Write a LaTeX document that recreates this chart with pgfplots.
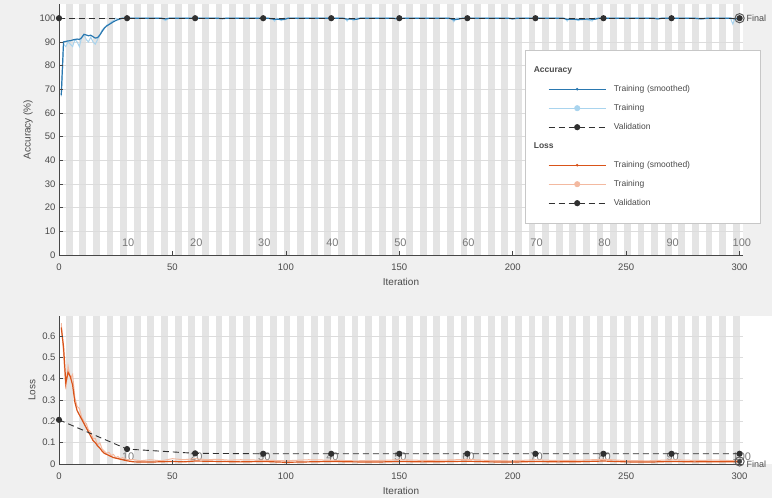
\documentclass[border=0pt]{standalone}
\usepackage{pgfplots}
\pgfplotsset{compat=1.18}
\usepackage{fontspec}
\setmainfont{Liberation Sans}
\definecolor{figbg}{HTML}{F0F0F0}
\definecolor{stripe}{HTML}{E4E4E4}
\definecolor{gridc}{HTML}{DCDCDC}
\definecolor{blueline}{HTML}{2A78B0}
\definecolor{accR}{HTML}{A9D4EE}
\definecolor{orangeline}{HTML}{D95319}
\definecolor{lossR}{HTML}{F3B9A0}
\definecolor{valc}{HTML}{303030}
\definecolor{txt}{HTML}{4A4A4A}
\definecolor{eptxt}{HTML}{7A7A7A}

\pgfplotstableread{
it acc
1 67.5
2 90.0
3 90.2
4 90.4
5 90.5
6 90.8
7 91.0
8 91.2
9 91.0
10 91.8
11 93.2
12 92.9
13 92.6
14 92.8
15 92.2
16 91.6
17 91.8
18 92.9
19 94.4
20 95.8
21 96.7
22 97.3
23 97.9
24 98.5
25 99.0
26 99.4
27 99.7
28 100
45 100
47 99.7
49 100
70 100
72 99.8
74 100
92 100
95 99.5
97 99.6
99 99.4
101 100
125 100
127 99.6
129 99.7
131 99.5
133 100
147 100
150 99.6
152 100
172 100
174 99.3
176 99.6
178 100
198 100
200 99.7
202 100
222 100
224 99.5
227 99.6
230 99.4
233 99.7
236 99.5
238 100
262 100
264 99.7
266 100
280 100
283 99.7
286 100
296 100
298 99.7
300 100
}\accsmooth

\pgfplotstableread{
it acc
1 67
2 89
3 88
4 90
5 89
6 88
7 91
8 90
9 88
10 92
11 93
12 91
13 90
14 92
15 90
16 89
17 91
18 93
19 95
20 96
21 97
22 97.5
23 98.5
24 99
25 100
26 99.5
27 100
45 100
47 99
48 100
94 100
95 98.8
96 100
98 99
99 100
126 100
127 98.8
128 100
130 99
131 100
173 100
174 98.5
175 100
223 100
224 98.8
225 100
229 99
230 100
235 98.8
236 100
296 100
297 97.5
298 100
300 100
}\accraw

\pgfplotstableread{
it acc
0 100
30 100
60 100
90 100
120 100
150 100
180 100
210 100
240 100
270 100
300 100
}\accval

\pgfplotstableread{
it loss
1 0.64
2 0.55
3 0.38
4 0.43
5 0.41
6 0.37
7 0.29
8 0.25
9 0.23
10 0.21
11 0.19
12 0.17
13 0.15
14 0.13
15 0.11
16 0.10
17 0.085
18 0.075
19 0.06
20 0.05
21 0.045
22 0.04
23 0.035
24 0.03
26 0.025
28 0.02
30 0.015
33 0.01
40 0.009
50 0.012
55 0.01
60 0.014
70 0.012
80 0.01
90 0.012
100 0.008
110 0.01
120 0.012
130 0.01
140 0.009
150 0.012
160 0.01
170 0.011
180 0.013
190 0.01
200 0.009
210 0.012
220 0.01
230 0.011
240 0.014
250 0.01
260 0.009
270 0.012
280 0.01
290 0.011
300 0.01
}\losssmooth

\pgfplotstableread{
it loss
1 0.66
2 0.52
3 0.35
4 0.46
5 0.40
6 0.42
7 0.31
8 0.27
9 0.26
10 0.22
11 0.20
12 0.19
13 0.16
14 0.15
15 0.12
16 0.12
17 0.09
18 0.10
19 0.07
20 0.06
21 0.05
22 0.055
23 0.04
24 0.045
25 0.03
26 0.035
27 0.025
28 0.03
30 0.02
33 0.02
36 0.015
40 0.02
45 0.015
50 0.025
55 0.02
60 0.025
65 0.02
70 0.022
75 0.018
80 0.02
90 0.018
100 0.015
110 0.02
120 0.018
130 0.015
140 0.016
150 0.02
160 0.017
170 0.018
180 0.022
190 0.016
200 0.015
210 0.02
220 0.016
230 0.018
240 0.022
250 0.016
260 0.015
270 0.02
280 0.017
290 0.018
300 0.015
}\lossraw

\pgfplotstableread{
it loss
0 0.207
30 0.070
60 0.050
90 0.048
120 0.048
150 0.048
180 0.048
210 0.048
240 0.048
270 0.048
300 0.048
}\lossval

\tikzset{eplab/.style={font=\fontsize{11}{12}\selectfont, text=eptxt}}
\pgfplotsset{
  trp/.style={
    scale only axis, width=684pt, xmin=0, xmax=301.5,
    axis on top,
    axis background/.style={fill=white},
    axis lines*=left,
    axis line style={draw=black!72, line width=0.7pt},
    xtick={0,50,...,300},
    tick align=inside, major tick length=4pt,
    tick style={draw=black!72, line width=0.6pt},
    ticklabel style={font=\fontsize{9.5}{11}\selectfont, text=txt},
    xticklabel style={yshift=-5pt},
    label style={font=\fontsize{10}{12}\selectfont, text=txt},
    xlabel style={yshift=-1.5pt},
    /pgf/number format/assume math mode=true,
    xlabel={Iteration},
    clip=false,
  },
}

\begin{document}
\begin{tikzpicture}[x=1pt,y=1pt]
\useasboundingbox (0,0) rectangle (772,498);
\fill[figbg] (0,0) rectangle (772,498);
\fill[white] (742,34) rectangle (772,182);

% ---------------- Accuracy ----------------
\begin{axis}[trp,
  at={(59pt,243pt)}, anchor=south west,
  height=251pt, ymin=0, ymax=106,
  ytick={0,10,...,100},
  ylabel={Accuracy (\%)},
  legend style={at={(0.681,0.817)}, anchor=north west,
    draw=black!22, fill=white, line width=0.5pt,
    inner xsep=23pt, inner ysep=14.25pt,
    row sep=7.5pt, column sep=5.5pt,
    font=\fontsize{8.5}{10}\selectfont, text=txt,
    nodes={text width=121pt, text height=6.5pt, text depth=2pt, inner ysep=1.5pt, align=left}},
  legend cell align=left,
  legend image code/.code={\draw[mark repeat=2,mark phase=2,#1] plot coordinates {(0pt,0pt) (28.5pt,0pt) (57pt,0pt)};},
]
\pgfplotsinvokeforeach{0,...,49}{\fill[stripe] (axis cs:{6*#1+3},0) rectangle (axis cs:{6*#1+6},106);}
\pgfplotsinvokeforeach{10,20,...,100}{\draw[gridc, line width=0.5pt] (axis cs:0,#1) -- (axis cs:301.5,#1);}
\node[eplab] at (axis cs:30.5,5) {10};
\node[eplab] at (axis cs:60.5,5) {20};
\node[eplab] at (axis cs:90.5,5) {30};
\node[eplab] at (axis cs:120.5,5) {40};
\node[eplab] at (axis cs:150.5,5) {50};
\node[eplab] at (axis cs:180.5,5) {60};
\node[eplab] at (axis cs:210.5,5) {70};
\node[eplab] at (axis cs:240.5,5) {80};
\node[eplab] at (axis cs:270.5,5) {90};
\node[eplab] at (axis cs:301,5) {100};

\addplot[forget plot, color=accR, line width=1.0pt] table[x=it,y=acc] {\accraw};
\addplot[forget plot, color=blueline, line width=1.2pt] table[x=it,y=acc] {\accsmooth};
\addplot[forget plot, color=valc, line width=0.9pt, dash pattern=on 6pt off 4pt, mark=*, mark size=2.6pt, mark options={solid, fill=valc, draw=valc}] table[x=it,y=acc] {\accval};
\addplot[forget plot, only marks, mark=o, mark size=4.6pt, mark options={draw=black!65, line width=1pt}] coordinates {(300,100)};
\node[anchor=west, font=\fontsize{9}{10}\selectfont, text=txt, inner sep=0pt] at (axis cs:303,100) {Final};

\addlegendimage{empty legend}
\addlegendentry{\makebox[0pt][l]{\hspace*{-80pt}\textbf{Accuracy}}}
\addlegendimage{color=blueline, line width=1.3pt, mark=*, mark size=0.5pt, mark options={fill=blueline, draw=blueline}}
\addlegendentry{Training (smoothed)}
\addlegendimage{color=accR, line width=0.8pt, mark=*, mark size=2.6pt, mark options={fill=accR, draw=accR}}
\addlegendentry{Training}
\addlegendimage{color=valc, line width=0.9pt, dash pattern=on 6pt off 4pt, mark=*, mark size=2.6pt, mark options={solid, fill=valc, draw=valc}}
\addlegendentry{Validation}
\addlegendimage{empty legend}
\addlegendentry{\makebox[0pt][l]{\hspace*{-80pt}\textbf{Loss}}}
\addlegendimage{color=orangeline, line width=1.3pt, mark=*, mark size=0.5pt, mark options={fill=orangeline, draw=orangeline}}
\addlegendentry{Training (smoothed)}
\addlegendimage{color=lossR, line width=0.8pt, mark=*, mark size=2.6pt, mark options={fill=lossR, draw=lossR}}
\addlegendentry{Training}
\addlegendimage{color=valc, line width=0.9pt, dash pattern=on 6pt off 4pt, mark=*, mark size=2.6pt, mark options={solid, fill=valc, draw=valc}}
\addlegendentry{Validation}
\end{axis}

% ---------------- Loss ----------------
\begin{axis}[trp,
  at={(59pt,34pt)}, anchor=south west,
  height=148pt, ymin=0, ymax=0.694,
  ytick={0,0.1,...,0.6},
  yticklabel style={/pgf/number format/fixed, /pgf/number format/precision=1},
  ylabel={Loss},
]
\pgfplotsinvokeforeach{0,...,49}{\fill[stripe] (axis cs:{6*#1+3},0) rectangle (axis cs:{6*#1+6},0.694);}
\pgfplotsinvokeforeach{0.1,0.2,0.3,0.4,0.5,0.6}{\draw[gridc, line width=0.5pt] (axis cs:0,#1) -- (axis cs:301.5,#1);}
\node[eplab] at (axis cs:30.5,0.033) {10};
\node[eplab] at (axis cs:60.5,0.033) {20};
\node[eplab] at (axis cs:90.5,0.033) {30};
\node[eplab] at (axis cs:120.5,0.033) {40};
\node[eplab] at (axis cs:150.5,0.033) {50};
\node[eplab] at (axis cs:180.5,0.033) {60};
\node[eplab] at (axis cs:210.5,0.033) {70};
\node[eplab] at (axis cs:240.5,0.033) {80};
\node[eplab] at (axis cs:270.5,0.033) {90};
\node[eplab] at (axis cs:301,0.033) {100};

\addplot[color=lossR, line width=1.0pt] table[x=it,y=loss] {\lossraw};
\addplot[color=orangeline, line width=1.2pt] table[x=it,y=loss] {\losssmooth};
\addplot[color=valc, line width=0.9pt, dash pattern=on 6pt off 4pt, mark=*, mark size=2.6pt, mark options={solid, fill=valc, draw=valc}] table[x=it,y=loss] {\lossval};
\addplot[only marks, mark=*, mark size=2.2pt, mark options={fill=black!75, draw=black!75}] coordinates {(300,0.012)};
\addplot[only marks, mark=o, mark size=4.6pt, mark options={draw=black!65, line width=1pt}] coordinates {(300,0.012)};
\node[anchor=west, font=\fontsize{9}{10}\selectfont, text=txt, inner sep=0pt] at (axis cs:303,0.0) {Final};
\end{axis}
\end{tikzpicture}
\end{document}
